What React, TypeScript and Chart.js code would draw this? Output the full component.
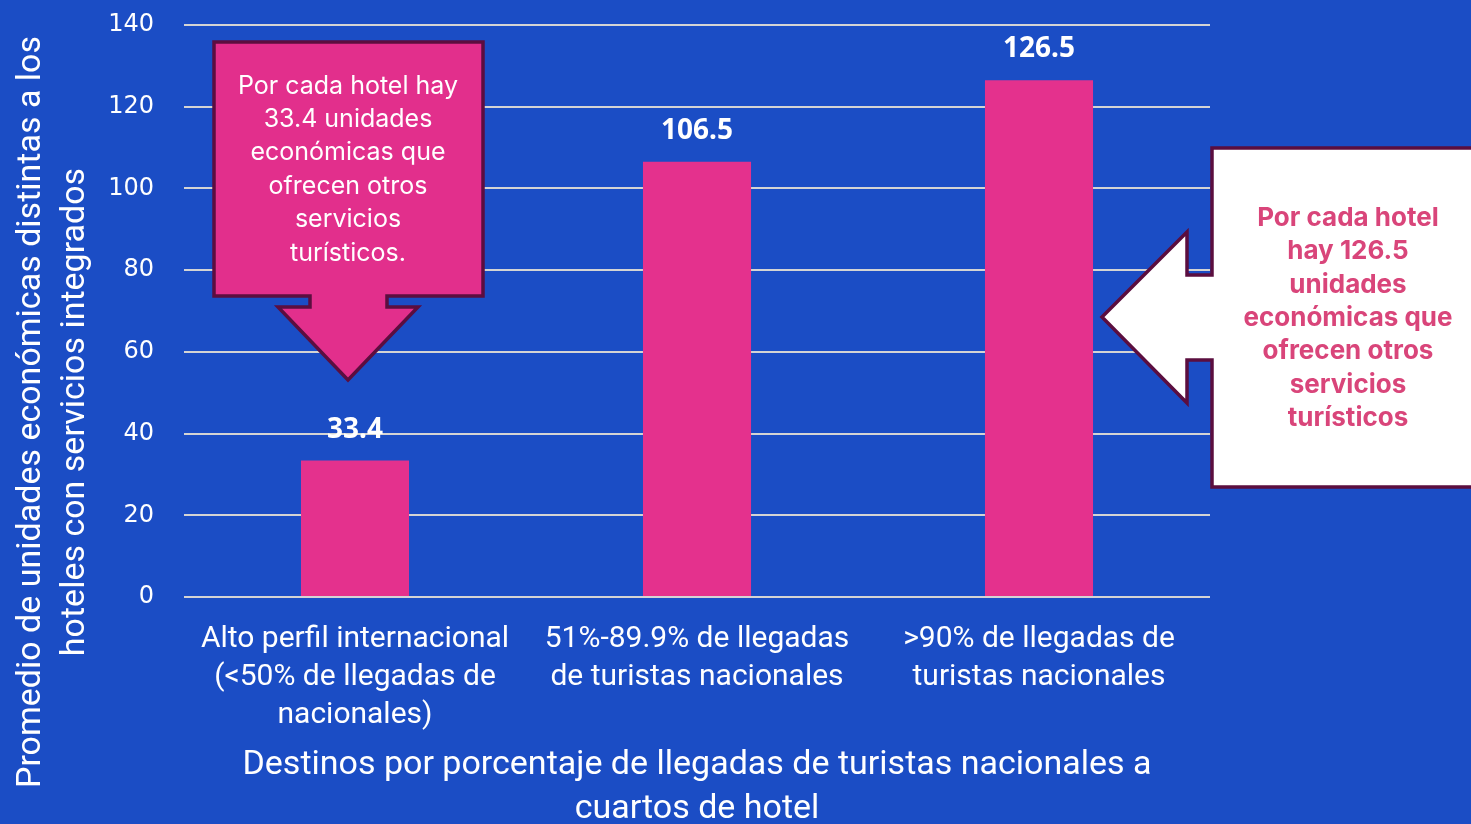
import React, { useEffect, useRef } from "react";
import { Chart, registerables } from "chart.js";

Chart.register(...registerables);

const categories: string[][] = [
  ["Alto perfil internacional", "(<50% de llegadas de", "nacionales)"],
  ["51%-89.9% de llegadas", "de turistas nacionales"],
  [">90% de llegadas de", "turistas nacionales"],
];
const values: number[] = [33.4, 106.5, 126.5];
const yMin = 0;
const yMax = 140;
const yStep = 20;
const yTitle: string[] = [
  "Promedio de unidades económicas distintas a los",
  "hoteles con servicios integrados",
];
const xTitle: string[] = [
  "Destinos por porcentaje de llegadas de turistas nacionales a",
  "cuartos de hotel",
];
const leftNote: string[] = [
  "Por cada hotel hay",
  "33.4 unidades",
  "económicas que",
  "ofrecen otros",
  "servicios",
  "turísticos.",
];
const rightNote: string[] = [
  "Por cada hotel",
  "hay 126.5",
  "unidades",
  "económicas que",
  "ofrecen otros",
  "servicios",
  "turísticos",
];

const BG = "#1B4DC5";
const BAR = "#E4318D";
const CALLOUT_FILL = "#E22F8C";
const CALLOUT_BORDER = "#5B0E3F";
const NOTE_PINK = "#D9457A";
const GRID = "#D4D4D4";

const poly = (ctx: CanvasRenderingContext2D, pts: number[][]) => {
  ctx.beginPath();
  pts.forEach(([x, y], i) => (i === 0 ? ctx.moveTo(x, y) : ctx.lineTo(x, y)));
  ctx.closePath();
};

const decorPlugin = {
  id: "decor",
  afterDatasetsDraw(chart: any) {
    const ctx: CanvasRenderingContext2D = chart.ctx;
    const meta = chart.getDatasetMeta(0);
    ctx.save();
    ctx.fillStyle = "#FFFFFF";
    ctx.font = "bold 28px 'Noto Sans'";
    ctx.textAlign = "center";
    ctx.textBaseline = "middle";
    meta.data.forEach((el: any, i: number) => {
      ctx.fillText(values[i].toFixed(1), el.x, el.y - 31);
    });
    ctx.restore();
  },
  afterDraw(chart: any) {
    const ctx: CanvasRenderingContext2D = chart.ctx;
    ctx.save();
    ctx.fillStyle = "#FFFFFF";
    ctx.font = "34px Roboto";
    ctx.textAlign = "center";
    ctx.textBaseline = "middle";
    ctx.translate(0, 412);
    ctx.rotate(-Math.PI / 2);
    ctx.fillText(yTitle[0], 0, 31);
    ctx.fillText(yTitle[1], 0, 75);
    ctx.restore();

    ctx.save();
    ctx.fillStyle = "#FFFFFF";
    ctx.font = "34px Roboto";
    ctx.textAlign = "center";
    ctx.textBaseline = "middle";
    ctx.fillText(xTitle[0], 697, 765);
    ctx.fillText(xTitle[1], 697, 809);
    ctx.restore();

    ctx.save();
    poly(ctx, [
      [214, 42], [483, 42], [483, 296], [387, 296], [387, 307], [418, 307],
      [348, 380], [278, 307], [310, 307], [310, 296], [214, 296],
    ]);
    ctx.fillStyle = CALLOUT_FILL;
    ctx.fill();
    ctx.lineWidth = 3.5;
    ctx.lineJoin = "miter";
    ctx.strokeStyle = CALLOUT_BORDER;
    ctx.stroke();
    ctx.fillStyle = "#FFFFFF";
    ctx.font = "25px Inter";
    ctx.textAlign = "center";
    ctx.textBaseline = "middle";
    leftNote.forEach((t, i) => ctx.fillText(t, 348, 86 + i * 33.4));
    ctx.restore();

    ctx.save();
    poly(ctx, [
      [1212, 148], [1490, 148], [1490, 487], [1212, 487], [1212, 360],
      [1187, 360], [1187, 403], [1102, 317], [1187, 232], [1187, 275], [1212, 275],
    ]);
    ctx.fillStyle = "#FFFFFF";
    ctx.fill();
    ctx.lineWidth = 3.5;
    ctx.strokeStyle = CALLOUT_BORDER;
    ctx.stroke();
    ctx.fillStyle = NOTE_PINK;
    ctx.font = "bold 26px Inter";
    ctx.textAlign = "center";
    ctx.textBaseline = "middle";
    rightNote.forEach((t, i) => ctx.fillText(t, 1348, 218 + i * 33.4));
    ctx.restore();
  },
};

export default function App() {
  const ref = useRef<HTMLCanvasElement | null>(null);
  useEffect(() => {
    document.body.style.margin = "0";
    const canvas = ref.current;
    if (!canvas) return;
    const chart = new Chart(canvas, {
      type: "bar",
      data: {
        labels: categories,
        datasets: [
          {
            data: values,
            backgroundColor: BAR,
            borderWidth: 0,
            barPercentage: 0.316,
            categoryPercentage: 1,
          },
        ],
      },
      options: {
        animation: false,
        responsive: false,
        maintainAspectRatio: false,
        layout: { padding: { left: 0, right: 261, top: 25, bottom: 0 } },
        plugins: {
          legend: { display: false },
          tooltip: { enabled: false },
          title: { display: false },
        },
        scales: {
          x: {
            grid: { display: false, drawTicks: false },
            border: { display: false },
            ticks: {
              color: "#FFFFFF",
              font: { family: "Roboto", size: 30, lineHeight: 1.267 },
              padding: 23,
              maxRotation: 0,
              autoSkip: false,
            },
            afterFit: (s: any) => {
              s.height = 227;
            },
          },
          y: {
            min: yMin,
            max: yMax,
            grid: {
              color: GRID,
              lineWidth: 2,
              drawTicks: true,
              tickLength: 22,
              tickColor: "rgba(0,0,0,0)",
            },
            border: { display: false },
            ticks: {
              stepSize: yStep,
              color: "#FFFFFF",
              font: { family: "DejaVu Sans", size: 24 },
              padding: 8,
            },
            afterFit: (s: any) => {
              s.width = 184;
            },
          },
        },
      },
      plugins: [decorPlugin],
    });
    return () => chart.destroy();
  }, []);
  return (
    <div style={{ width: 1471, height: 824, background: BG, overflow: "hidden" }}>
      <canvas ref={ref} width={1471} height={824} style={{ display: "block" }} />
    </div>
  );
}
